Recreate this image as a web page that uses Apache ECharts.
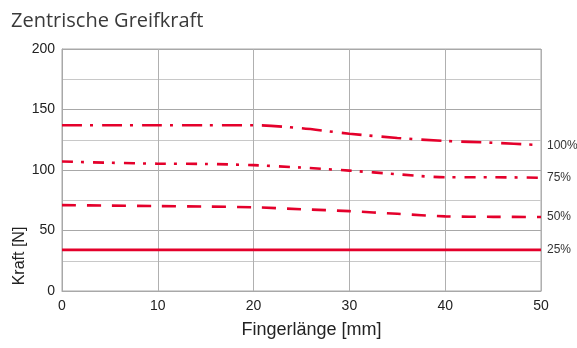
<!DOCTYPE html>
<html>
<head>
<meta charset="utf-8">
<script src="https://cdn.jsdelivr.net/npm/echarts@6/dist/echarts.min.js"></script>
<style>
  html, body { margin: 0; padding: 0; background: #fff; }
  #chart { width: 577px; height: 348px; }
</style>
</head>
<body>
<div id="chart"></div>
<script>
  // Fingerlänge [mm]
  var fingerLength = [0, 5, 10, 15, 20, 25, 30, 35, 40, 45, 50];
  // Kraft [N] je Druckstufe
  var force100 = [137, 137, 137, 137, 137, 134.5, 130, 126.5, 124, 122.5, 120.5];
  var force75 = [107, 106, 105.2, 105, 104, 102, 99.5, 96.5, 94, 94, 93.6];
  var force50 = [71, 70.6, 70.2, 69.8, 69.2, 67.6, 66, 63.8, 61.7, 61.3, 61.2];
  var force25 = [34, 34, 34, 34, 34, 34, 34, 34, 34, 34, 34];
  var seriesNames = ['100%', '75%', '50%', '25%'];

  function pairs(ys) {
    var out = [];
    for (var i = 0; i < fingerLength.length; i++) {
      out.push([fingerLength[i], ys[i]]);
    }
    return out;
  }

  var red = '#e4002b';
  var labelFont = '"Liberation Sans", Arial, sans-serif';

  function makeSeries(name, ys, dash) {
    return {
      name: name,
      type: 'line',
      data: pairs(ys),
      symbol: 'none',
      smooth: 0.3,
      silent: true,
      lineStyle: { color: red, width: 2.6, type: dash },
      endLabel: {
        show: true,
        formatter: '{a}',
        color: '#333',
        fontSize: 12,
        fontFamily: labelFont,
        distance: 6
      }
    };
  }

  var chart = echarts.init(document.getElementById('chart'));
  chart.setOption({
    backgroundColor: '#fff',
    animation: false,
    title: {
      text: 'Zentrische Greifkraft',
      left: 6,
      top: 6,
      textStyle: {
        fontFamily: '"Open Sans", "Noto Sans", sans-serif',
        fontWeight: 'normal',
        fontSize: 20,
        color: '#3a3a3a'
      }
    },
    grid: {
      left: 62,
      right: 36,
      top: 49,
      bottom: 57,
      outerBoundsMode: 'none',
      containLabel: false,
      show: true,
      borderColor: '#a8a8a8',
      borderWidth: 1
    },
    xAxis: {
      type: 'value',
      min: 0,
      max: 50,
      interval: 10,
      name: 'Fingerlänge [mm]',
      nameLocation: 'middle',
      nameGap: 30,
      nameMoveOverlap: false,
      nameTextStyle: {
        fontFamily: labelFont,
        fontSize: 18,
        color: '#222',
        padding: [0, 0, 0, 20]
      },
      axisLine: { show: true, lineStyle: { color: '#a8a8a8' } },
      axisTick: { show: false },
      axisLabel: { margin: 8, fontFamily: labelFont, fontSize: 14, color: '#222' },
      splitLine: { show: true, lineStyle: { color: '#b0b0b0', width: 1 } }
    },
    yAxis: {
      type: 'value',
      min: 0,
      max: 200,
      interval: 25,
      name: 'Kraft [N]',
      nameLocation: 'middle',
      nameGap: 34,
      nameMoveOverlap: false,
      nameTextStyle: {
        fontFamily: labelFont,
        fontSize: 16,
        color: '#222',
        padding: [0, 172, 0, 0]
      },
      axisLine: { show: true, lineStyle: { color: '#a8a8a8' } },
      axisTick: { show: false },
      axisLabel: {
        margin: 7,
        fontFamily: labelFont,
        fontSize: 14,
        color: '#222',
        formatter: function (v) {
          return v % 50 === 0 ? String(v) : '';
        }
      },
      splitLine: { show: true, lineStyle: { color: ['#a8a8a8', '#c8c8c8'], width: 1 } }
    },
    series: [
      makeSeries(seriesNames[0], force100, [20, 8, 3, 9]),
      makeSeries(seriesNames[1], force75, [11, 8, 3, 9]),
      makeSeries(seriesNames[2], force50, [14, 11]),
      makeSeries(seriesNames[3], force25, 'solid')
    ]
  });
</script>
</body>
</html>
